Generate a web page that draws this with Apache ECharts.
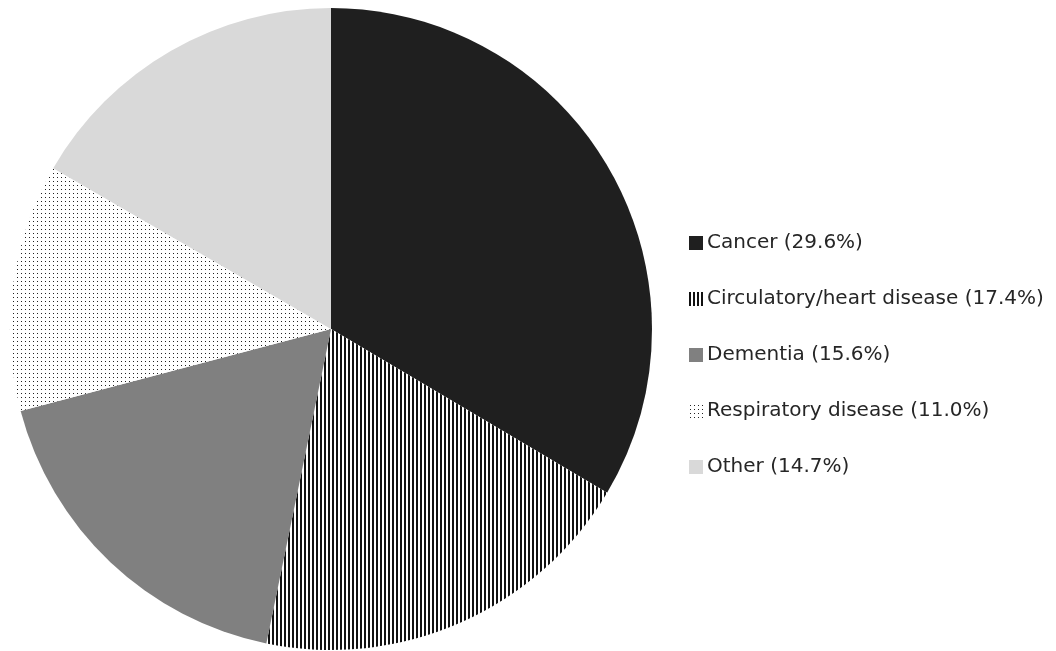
<!DOCTYPE html>
<html>
<head>
<meta charset="utf-8">
<script src="https://cdn.jsdelivr.net/npm/echarts@6/dist/echarts.min.js"></script>
<style>html,body{margin:0;padding:0;background:#fff}#c{width:1056px;height:651px}</style>
</head>
<body>
<div id="c"></div>
<script>
const categories = ['Cancer', 'Circulatory/heart disease', 'Dementia', 'Respiratory disease', 'Other'];
const values = [29.6, 17.4, 15.6, 11.0, 14.7];
const legendLabels = ['Cancer (29.6%)', 'Circulatory/heart disease (17.4%)', 'Dementia (15.6%)', 'Respiratory disease (11.0%)', 'Other (14.7%)'];

function stripes() {
  const c = document.createElement('canvas'); c.width = 4; c.height = 4;
  const g = c.getContext('2d');
  g.fillStyle = '#fff'; g.fillRect(0, 0, 4, 4);
  g.fillStyle = '#111'; g.fillRect(0, 0, 2, 4);
  return c;
}
function dots() {
  const c = document.createElement('canvas'); c.width = 4; c.height = 4;
  const g = c.getContext('2d');
  g.fillStyle = '#fff'; g.fillRect(0, 0, 4, 4);
  g.fillStyle = '#222'; g.fillRect(1, 1, 1, 1);
  return c;
}
const fills = [
  '#1f1f1f',
  { image: stripes(), repeat: 'repeat' },
  '#808080',
  { image: dots(), repeat: 'repeat' },
  '#d9d9d9'
];

const chart = echarts.init(document.getElementById('c'), null, { renderer: 'canvas' });
chart.setOption({
  animation: false,
  legend: {
    orient: 'vertical',
    left: 684,
    top: 228,
    itemWidth: 14,
    itemHeight: 14,
    itemGap: 36,
    icon: 'rect',
    data: categories,
    formatter: function (name) { return legendLabels[categories.indexOf(name)]; },
    textStyle: { fontFamily: 'DejaVu Sans', fontSize: 20, color: '#262626', padding: [0, 0, 0, -1] }
  },
  series: [{
    type: 'pie',
    center: [331, 329],
    radius: 321,
    startAngle: 90,
    clockwise: true,
    label: { show: false },
    labelLine: { show: false },
    emphasis: { disabled: true },
    itemStyle: { borderWidth: 0 },
    data: categories.map((n, i) => ({ name: n, value: values[i], itemStyle: { color: fills[i] } }))
  }]
});
</script>
</body>
</html>
